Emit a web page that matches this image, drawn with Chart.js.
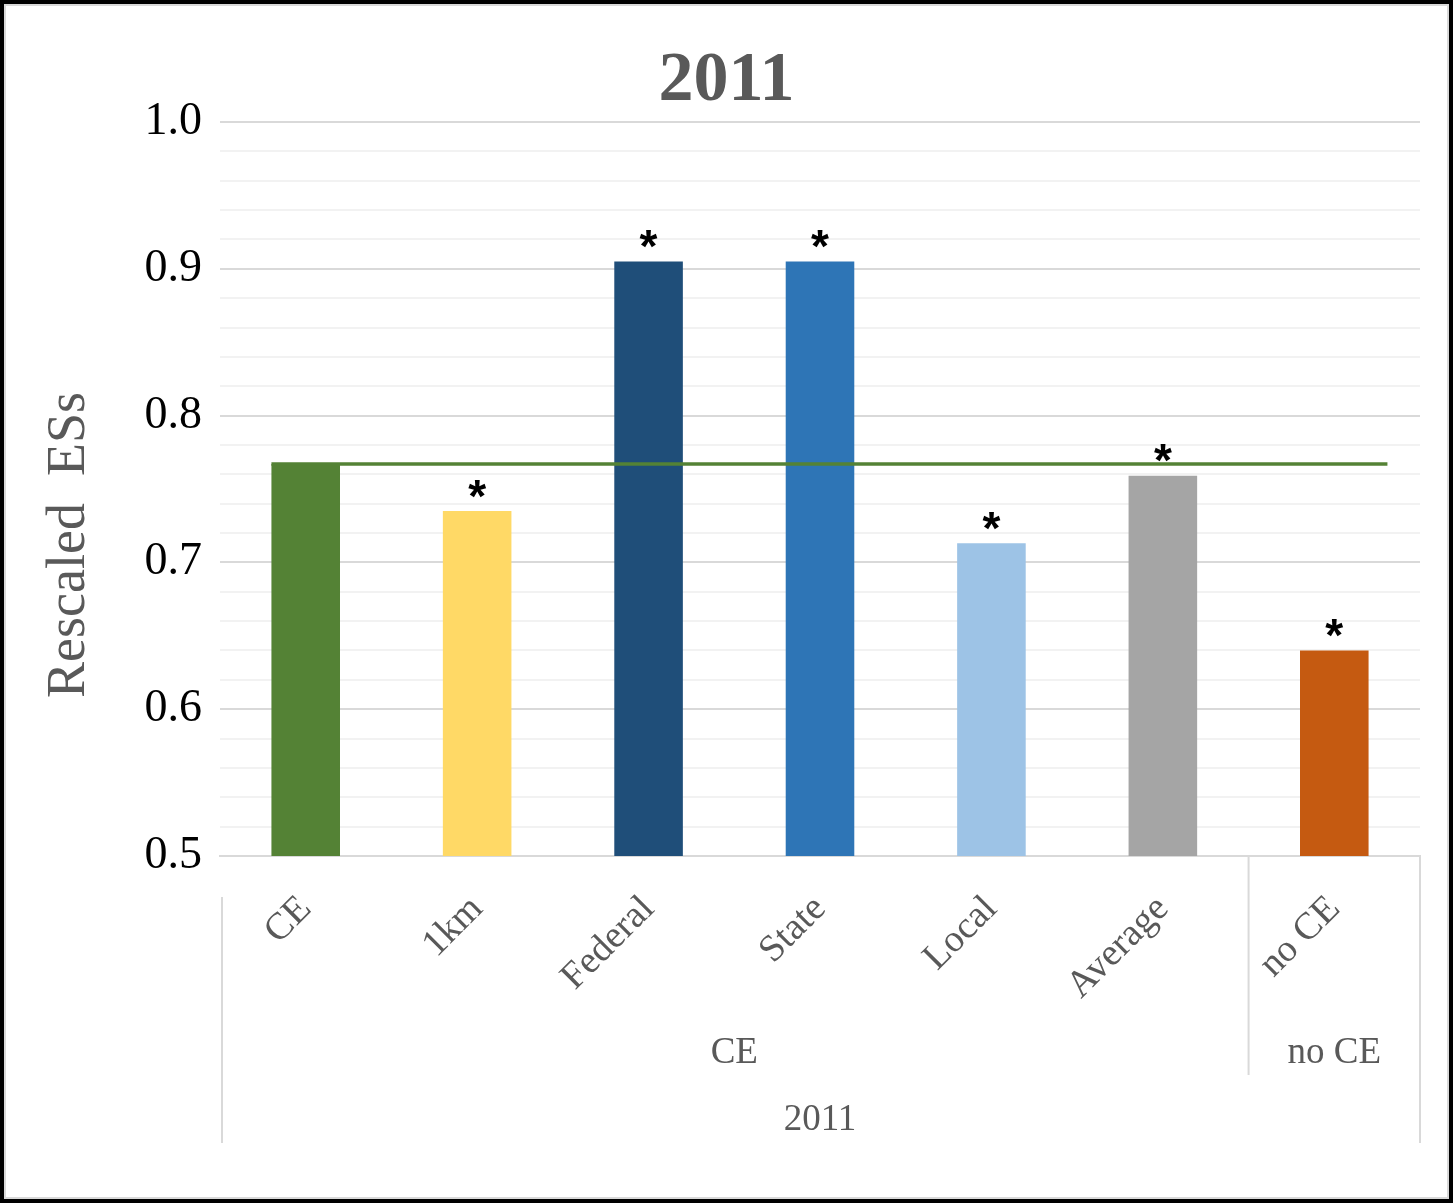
<!DOCTYPE html>
<html>
<head>
<meta charset="utf-8">
<title>2011 - Rescaled ESs</title>
<script src="https://cdn.jsdelivr.net/npm/chart.js@4"></script>
<style>
  html, body { margin: 0; padding: 0; background: #fff; }
  #wrap { width: 1453px; height: 1203px; }
</style>
</head>
<body>
<div id="wrap"><canvas id="esCanvas" width="1453" height="1203"></canvas></div>
<script>
// values
var categories = ['CE', '1km', 'Federal', 'State', 'Local', 'Average', 'no CE'];
var esValues = [0.767, 0.735, 0.905, 0.905, 0.713, 0.759, 0.640];
var significant = [false, true, true, true, true, true, true];
var barColors = ['#548235', '#FFD966', '#1F4E79', '#2E75B6', '#9DC3E6', '#A5A5A5', '#C55A11'];
var groups = [{label: 'CE', from: 0, to: 5}, {label: 'no CE', from: 6, to: 6}];
var yearLabel = '2011';
var titleText = '2011';
var yTitle = 'Rescaled  ESs';

var serif = '"Liberation Serif", "Times New Roman", serif';
var greyText = '#595959';
var axisGrey = '#d9d9d9';

// frame, title, y title, reference line, asterisks, category groups
var extras = {
    id: 'extras',
    beforeDraw: function (chart) {
        var ctx = chart.ctx;
        ctx.save();
        ctx.fillStyle = '#ffffff';
        ctx.fillRect(0, 0, chart.width, chart.height);
        ctx.restore();
    },
    afterDatasetsDraw: function (chart) {
        var ctx = chart.ctx;
        var x = chart.scales.x;
        var y = chart.scales.y;
        var bars = chart.getDatasetMeta(0).data;
        var catW = x.getPixelForValue(1) - x.getPixelForValue(0);

        ctx.save();
        // reference line at the CE level
        var refY = y.getPixelForValue(esValues[0]);
        ctx.strokeStyle = '#548235';
        ctx.lineWidth = 3.5;
        ctx.beginPath();
        ctx.moveTo(bars[0].x - bars[0].width / 2, refY);
        ctx.lineTo(x.getPixelForValue(categories.length - 1) + catW * 0.31, refY);
        ctx.stroke();

        // asterisks
        ctx.fillStyle = '#000';
        ctx.font = 'bold 46px "Liberation Sans", Arial, sans-serif';
        ctx.textAlign = 'center';
        ctx.textBaseline = 'middle';
        for (var i = 0; i < bars.length; i++) {
            if (significant[i]) ctx.fillText('*', bars[i].x, bars[i].y - 12);
        }

        // title
        ctx.fillStyle = greyText;
        ctx.font = 'bold 70px ' + serif;
        ctx.textBaseline = 'alphabetic';
        ctx.fillText(titleText, chart.width / 2, 100);

        // y axis title
        ctx.save();
        ctx.translate(84, 545);
        ctx.rotate(-Math.PI / 2);
        ctx.font = '54px ' + serif;
        ctx.fillText(yTitle, 0, 0);
        ctx.restore();

        // group separators and labels
        var bottom = y.bottom;
        ctx.strokeStyle = axisGrey;
        ctx.lineWidth = 2;
        ctx.beginPath();
        var sepX = x.getPixelForValue(5) + catW / 2;
        ctx.moveTo(sepX, bottom); ctx.lineTo(sepX, 1075);
        ctx.moveTo(x.right, bottom); ctx.lineTo(x.right, 1143);
        ctx.moveTo(x.left + 2, 897); ctx.lineTo(x.left + 2, 1143);
        ctx.stroke();

        ctx.fillStyle = greyText;
        ctx.font = '37px ' + serif;
        groups.forEach(function (g) {
            var cx = (x.getPixelForValue(g.from) + x.getPixelForValue(g.to)) / 2;
            ctx.fillText(g.label, cx, 1063);
        });
        ctx.fillText(yearLabel, (x.left + x.right) / 2, 1130);

        // frame
        ctx.strokeStyle = '#000';
        ctx.lineWidth = 8;
        ctx.strokeRect(0, 0, chart.width, chart.height);
        ctx.strokeStyle = '#d9d9d9';
        ctx.lineWidth = 2;
        ctx.strokeRect(5, 5, chart.width - 10, chart.height - 10);
        ctx.restore();
    }
};

function isMajor(v) {
    return Math.abs(v * 10 - Math.round(v * 10)) < 1e-6;
}

new Chart(document.getElementById('esCanvas'), {
    type: 'bar',
    data: {
        labels: categories,
        datasets: [{
            data: esValues,
            backgroundColor: barColors,
            borderWidth: 0,
            categoryPercentage: 1.0,
            barPercentage: 0.4
        }]
    },
    options: {
        responsive: false,
        animation: false,
        layout: { padding: { top: 122, right: 33, bottom: 0, left: 0 } },
        plugins: {
            legend: { display: false },
            tooltip: { enabled: false }
        },
        scales: {
            x: {
                grid: { display: false, drawTicks: false },
                border: { color: axisGrey, width: 2 },
                ticks: {
                    color: greyText,
                    font: { family: serif, size: 38 },
                    minRotation: 45,
                    maxRotation: 45,
                    padding: 31,
                    autoSkip: false
                },
                afterFit: function (scale) { scale.height = 1203 - 856; }
            },
            y: {
                min: 0.5,
                max: 1.0,
                grid: {
                    drawTicks: false,
                    lineWidth: 2,
                    color: function (c) { return isMajor(c.tick.value) ? axisGrey : '#f2f2f2'; }
                },
                border: { display: false },
                ticks: {
                    stepSize: 0.02,
                    autoSkip: false,
                    padding: 18,
                    color: '#000',
                    font: { family: serif, size: 46 },
                    callback: function (v) { return isMajor(v) ? v.toFixed(1) : ''; }
                },
                afterFit: function (scale) { scale.width = 220; }
            }
        }
    },
    plugins: [extras]
});
</script>
</body>
</html>
